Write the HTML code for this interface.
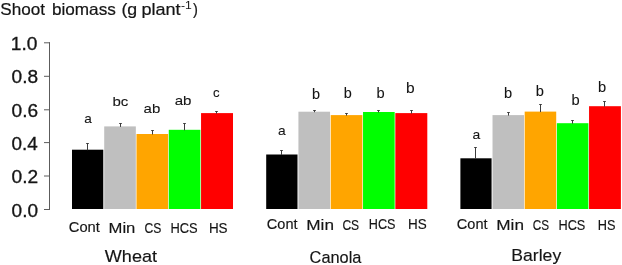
<!DOCTYPE html>
<html><head><meta charset="utf-8"><title>Shoot biomass</title>
<style>
html,body{margin:0;padding:0;background:#fff;}
svg{display:block;}
text{font-family:"Liberation Sans",sans-serif;fill:#151515;stroke:#151515;stroke-width:0.15px;}
</style></head><body>
<svg width="622" height="265" viewBox="0 0 622 265">
<rect width="622" height="265" fill="#ffffff"/>

<text transform="translate(0.23 14.60) scale(1.0497 1)" font-size="16.3" style="stroke-width:0.2px">Shoot</text>
<text transform="translate(51.88 14.60) scale(1.0534 1)" font-size="16.3" style="stroke-width:0.2px">biomass</text>
<text transform="translate(121.39 14.60) scale(1.0898 1)" font-size="16.3" style="stroke-width:0.2px">(g</text>
<text transform="translate(141.42 14.60) scale(1.1099 1)" font-size="16.3" style="stroke-width:0.2px">plant</text>
<text transform="translate(180.95 9.30) scale(1.1732 1)" font-size="10.4" style="stroke-width:0px">-1</text>
<text transform="translate(192.89 14.60) scale(0.9029 1)" font-size="16.3" style="stroke-width:0.2px">)</text>
<g stroke="#5c5c5c" stroke-width="1" fill="none">
<line x1="49.5" y1="42.3" x2="49.5" y2="209.9"/>
<line x1="44" y1="209.5" x2="50" y2="209.5"/>
<line x1="44" y1="176.0" x2="50" y2="176.0"/>
<line x1="44" y1="142.6" x2="50" y2="142.6"/>
<line x1="44" y1="109.8" x2="50" y2="109.8"/>
<line x1="44" y1="76.3" x2="50" y2="76.3"/>
<line x1="44" y1="42.8" x2="50" y2="42.8"/>
</g>
<text transform="translate(11.59 217.00) scale(1.0681 1)" font-size="17.8" fill="#000" style="stroke-width:0.3px">0.0</text>
<text transform="translate(11.58 183.00) scale(1.0762 1)" font-size="17.8" fill="#000" style="stroke-width:0.3px">0.2</text>
<text transform="translate(11.59 150.00) scale(1.0600 1)" font-size="17.8" fill="#000" style="stroke-width:0.3px">0.4</text>
<text transform="translate(11.58 117.00) scale(1.0721 1)" font-size="17.8" fill="#000" style="stroke-width:0.3px">0.6</text>
<text transform="translate(11.58 83.00) scale(1.0721 1)" font-size="17.8" fill="#000" style="stroke-width:0.3px">0.8</text>
<text transform="translate(10.86 50.00) scale(1.0774 1)" font-size="17.8" fill="#000" style="stroke-width:0.3px">1.0</text>
<rect x="72.00" y="149.7" width="31.28" height="59.3" fill="#000000"/>
<rect x="104.21" y="126.4" width="31.62" height="82.6" fill="#bfbfbf"/>
<rect x="136.49" y="134.0" width="31.62" height="75.0" fill="#ffa500"/>
<rect x="168.77" y="129.8" width="31.62" height="79.2" fill="#00ff00"/>
<rect x="201.05" y="113.1" width="31.95" height="95.9" fill="#ff0000"/>
<path d="M87.5 150.2V143.0M86.2 143.5H88.8" stroke="#3c3c3c" stroke-width="1" fill="none"/>
<path d="M120.5 126.9V123.0M119.2 123.5H121.8" stroke="#3c3c3c" stroke-width="1" fill="none"/>
<path d="M152.5 134.5V130.0M151.2 130.5H153.8" stroke="#3c3c3c" stroke-width="1" fill="none"/>
<path d="M184.5 130.3V123.0M183.2 123.5H185.8" stroke="#3c3c3c" stroke-width="1" fill="none"/>
<path d="M216.5 113.6V111.0M215.2 111.5H217.8" stroke="#3c3c3c" stroke-width="1" fill="none"/>
<text transform="translate(84.32 122.60) scale(1.0143 1)" font-size="13.4" style="stroke-width:0.1px">a</text>
<text transform="translate(112.52 106.30) scale(1.1213 1)" font-size="13.4" style="stroke-width:0.1px">bc</text>
<text transform="translate(143.56 112.90) scale(1.1185 1)" font-size="13.4" style="stroke-width:0.1px">ab</text>
<text transform="translate(174.66 105.00) scale(1.1258 1)" font-size="13.4" style="stroke-width:0.1px">ab</text>
<text transform="translate(213.04 97.20) scale(0.9835 1)" font-size="13.4" style="stroke-width:0.1px">c</text>
<text transform="translate(68.77 232.15) scale(1.0573 1)" font-size="13.9" fill="#222">Cont</text>
<text transform="translate(108.53 233.05) scale(1.1982 1)" font-size="13.9" fill="#222">Min</text>
<text transform="translate(144.39 233.05) scale(0.8722 1)" font-size="13.9" fill="#222">CS</text>
<text transform="translate(170.44 233.05) scale(0.9278 1)" font-size="13.9" fill="#222">HCS</text>
<text transform="translate(208.89 233.05) scale(0.9687 1)" font-size="13.9" fill="#222">HS</text>
<text transform="translate(104.82 262.10) scale(1.1509 1)" font-size="15.7">Wheat</text>
<rect x="266.20" y="154.5" width="31.30" height="54.5" fill="#000000"/>
<rect x="298.43" y="111.7" width="31.64" height="97.3" fill="#bfbfbf"/>
<rect x="330.73" y="115.1" width="31.64" height="93.9" fill="#ffa500"/>
<rect x="363.03" y="112.0" width="31.64" height="97.0" fill="#00ff00"/>
<rect x="395.33" y="113.1" width="31.97" height="95.9" fill="#ff0000"/>
<path d="M281.5 155.0V150.0M280.2 150.5H282.8" stroke="#3c3c3c" stroke-width="1" fill="none"/>
<path d="M314.5 112.2V110.0M313.2 110.5H315.8" stroke="#3c3c3c" stroke-width="1" fill="none"/>
<path d="M346.5 115.6V113.0M345.2 113.5H347.8" stroke="#3c3c3c" stroke-width="1" fill="none"/>
<path d="M378.5 112.5V110.0M377.2 110.5H379.8" stroke="#3c3c3c" stroke-width="1" fill="none"/>
<path d="M411.5 113.6V110.0M410.2 110.5H412.8" stroke="#3c3c3c" stroke-width="1" fill="none"/>
<text transform="translate(277.91 134.80) scale(1.0288 1)" font-size="13.4" style="stroke-width:0.1px">a</text>
<text transform="translate(312.06 99.20) scale(0.9962 1)" font-size="14.5" style="stroke-width:0.1px">b</text>
<text transform="translate(343.66 97.90) scale(0.9962 1)" font-size="14.5" style="stroke-width:0.1px">b</text>
<text transform="translate(376.45 97.90) scale(1.0115 1)" font-size="14.5" style="stroke-width:0.1px">b</text>
<text transform="translate(405.89 93.10) scale(1.0728 1)" font-size="14.5" style="stroke-width:0.1px">b</text>
<text transform="translate(266.87 228.55) scale(1.0468 1)" font-size="13.9" fill="#222">Cont</text>
<text transform="translate(306.28 229.95) scale(1.2375 1)" font-size="13.9" fill="#222">Min</text>
<text transform="translate(342.40 229.95) scale(0.8666 1)" font-size="13.9" fill="#222">CS</text>
<text transform="translate(368.86 229.25) scale(0.9097 1)" font-size="13.9" fill="#222">HCS</text>
<text transform="translate(407.99 229.25) scale(0.9687 1)" font-size="13.9" fill="#222">HS</text>
<text transform="translate(309.58 262.80) scale(1.0432 1)" font-size="15.7">Canola</text>
<rect x="460.40" y="158.3" width="31.18" height="50.7" fill="#000000"/>
<rect x="492.51" y="115.1" width="31.52" height="93.9" fill="#bfbfbf"/>
<rect x="524.69" y="111.6" width="31.52" height="97.4" fill="#ffa500"/>
<rect x="556.87" y="123.2" width="31.52" height="85.8" fill="#00ff00"/>
<rect x="589.05" y="106.2" width="31.85" height="102.8" fill="#ff0000"/>
<path d="M475.5 158.8V147.0M474.2 147.5H476.8" stroke="#3c3c3c" stroke-width="1" fill="none"/>
<path d="M508.5 115.6V112.0M507.2 112.5H509.8" stroke="#3c3c3c" stroke-width="1" fill="none"/>
<path d="M540.5 112.1V104.0M539.2 104.5H541.8" stroke="#3c3c3c" stroke-width="1" fill="none"/>
<path d="M572.5 123.7V120.0M571.2 120.5H573.8" stroke="#3c3c3c" stroke-width="1" fill="none"/>
<path d="M604.5 106.7V101.0M603.2 101.5H605.8" stroke="#3c3c3c" stroke-width="1" fill="none"/>
<text transform="translate(472.41 139.40) scale(1.0433 1)" font-size="13.4" style="stroke-width:0.1px">a</text>
<text transform="translate(504.05 97.60) scale(1.0115 1)" font-size="14.5" style="stroke-width:0.1px">b</text>
<text transform="translate(535.75 95.90) scale(1.0115 1)" font-size="14.5" style="stroke-width:0.1px">b</text>
<text transform="translate(571.45 104.60) scale(1.0115 1)" font-size="14.5" style="stroke-width:0.1px">b</text>
<text transform="translate(597.95 91.70) scale(1.0115 1)" font-size="14.5" style="stroke-width:0.1px">b</text>
<text transform="translate(456.87 229.25) scale(1.0468 1)" font-size="13.9" fill="#222">Cont</text>
<text transform="translate(496.28 230.35) scale(1.2375 1)" font-size="13.9" fill="#222">Min</text>
<text transform="translate(532.81 230.35) scale(0.8444 1)" font-size="13.9" fill="#222">CS</text>
<text transform="translate(558.45 229.65) scale(0.9169 1)" font-size="13.9" fill="#222">HCS</text>
<text transform="translate(597.85 229.65) scale(0.9174 1)" font-size="13.9" fill="#222">HS</text>
<text transform="translate(511.35 261.30) scale(1.1205 1)" font-size="15.7">Barley</text>
</svg></body></html>
